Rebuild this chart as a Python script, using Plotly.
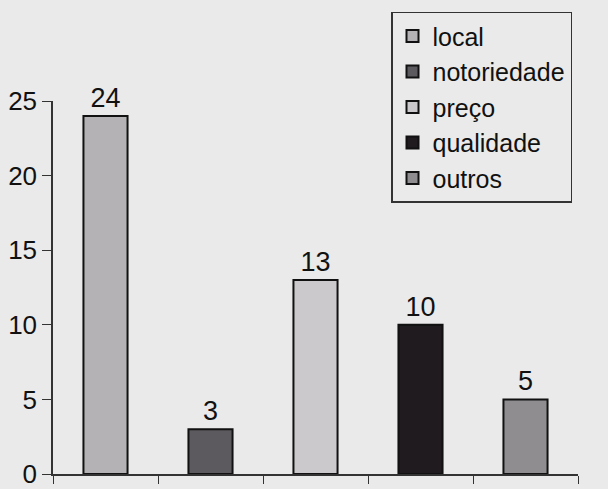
import plotly.graph_objects as go

categories = ["local", "notoriedade", "preço", "qualidade", "outros"]
values = [24, 3, 13, 10, 5]
colors = ["#b4b2b5", "#5c5a5e", "#cbc9cb", "#1f1b1e", "#8f8d90"]

FONT = "Liberation Sans, Arial, sans-serif"

fig = go.Figure()
for cat, val, col in zip(categories, values, colors):
    fig.add_trace(go.Bar(
        x=[cat], y=[val], name=cat,
        marker=dict(color=col, line=dict(color="#111111", width=2)),
        width=0.42,
        text=[str(val)], textposition="outside",
        textfont=dict(size=27, color="#111111", family=FONT),
        cliponaxis=False,
    ))

fig.update_layout(
    width=608, height=489,
    barmode="overlay",
    paper_bgcolor="#eaeaea",
    plot_bgcolor="#eaeaea",
    margin=dict(l=53, r=30, t=98, b=15),
    font=dict(family=FONT, color="#111111"),
    showlegend=True,
    legend=dict(
        x=(391 - 53) / 525, y=(474 - 8) / 376, xanchor="left", yanchor="top",
        bgcolor="#eaeaea", bordercolor="#333333", borderwidth=1.5,
        font=dict(size=25, color="#111111", family=FONT),
        itemsizing="constant",
    ),
    xaxis=dict(
        type="category", showticklabels=False, tickson="boundaries",
        ticks="outside", ticklen=8, tickcolor="#333333",
        showline=True, linecolor="#333333", linewidth=1.5,
        showgrid=False, zeroline=False, automargin=False,
        range=[-0.5, 4.5],
    ),
    yaxis=dict(
        range=[0, 25], tickvals=[0, 5, 10, 15, 20, 25],
        ticks="outside", ticklen=9, tickcolor="#333333",
        tickfont=dict(size=26, color="#111111", family=FONT),
        ticklabeloverflow="allow",
        showline=True, linecolor="#333333", linewidth=1.5,
        showgrid=False, zeroline=False, automargin=False,
    ),
)

fig.write_html("out.html")
